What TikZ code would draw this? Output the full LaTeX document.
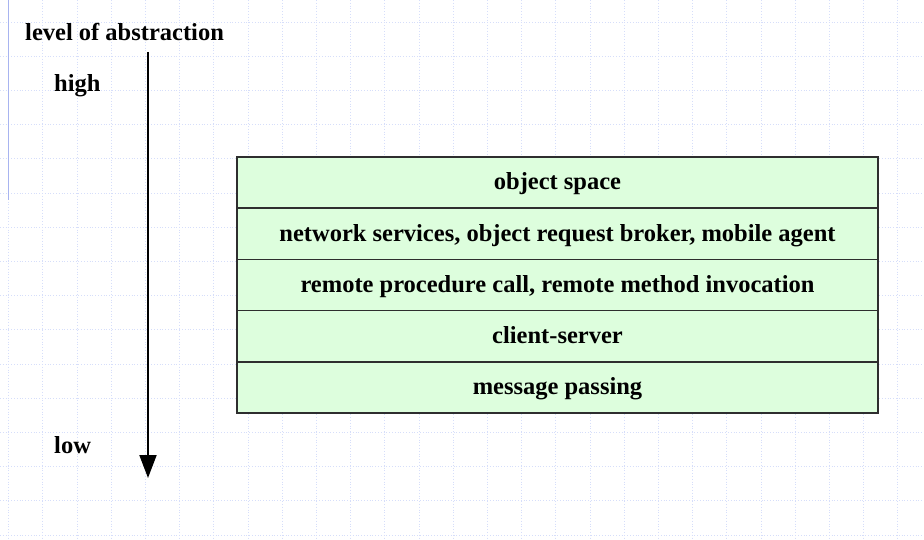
\documentclass[tikz,border=0pt]{standalone}
\usepackage{fontspec}
\setmainfont{Liberation Serif}
\usetikzlibrary{arrows.meta}
\definecolor{gridblue}{HTML}{D6DEFA}
\definecolor{lineblue}{HTML}{A8B4F0}
\definecolor{layergreen}{HTML}{DDFEDD}
\definecolor{layerline}{HTML}{2E2E2E}
\begin{document}
\begin{tikzpicture}[x=1pt,y=-1pt,
  lbl/.style={font=\bfseries\fontsize{24.5}{28}\selectfont, inner sep=0pt},
  layer/.style={draw=layerline, line width=1.5pt, fill=layergreen, minimum width=641pt, minimum height=51.2pt, inner sep=0pt, text height=18pt, text depth=3.2pt, font=\bfseries\fontsize{24.5}{28}\selectfont}]
\useasboundingbox (0,0) rectangle (924,540);
\fill[white] (0,0) rectangle (924,540);
% grid
\foreach \i in {0,...,26} {
  \draw[gridblue, dotted, line width=0.8pt] ({8.5+34.2*\i},0) -- ({8.5+34.2*\i},540);
}
\foreach \j in {0,...,15} {
  \draw[gridblue, dotted, line width=0.8pt] (0,{22+34.2*\j}) -- (924,{22+34.2*\j});
}
\draw[lineblue, line width=1pt] (8.5,0) -- (8.5,200);
% labels
\node[lbl, anchor=base west] (title) at (25,41) {level of abstraction};
\node[lbl, anchor=base west] (high) at (54,91.5) {high};
\node[lbl, anchor=base west] (low) at (54,453) {low};
% arrow
\coordinate (atop) at (148,52);
\coordinate (abot) at (148,478);
\draw[line width=2pt, -{Triangle[length=23pt,width=17pt]}] (atop) -- (abot);
% layers
\node[layer] (l1) at (557.5,182.6) {object space};
\node[layer] (l2) at (557.5,233.8) {network services, object request broker, mobile agent};
\node[layer] (l3) at (557.5,285.0) {remote procedure call, remote method invocation};
\node[layer] (l4) at (557.5,336.2) {client-server};
\node[layer] (l5) at (557.5,387.4) {message passing};
\end{tikzpicture}
\end{document}
